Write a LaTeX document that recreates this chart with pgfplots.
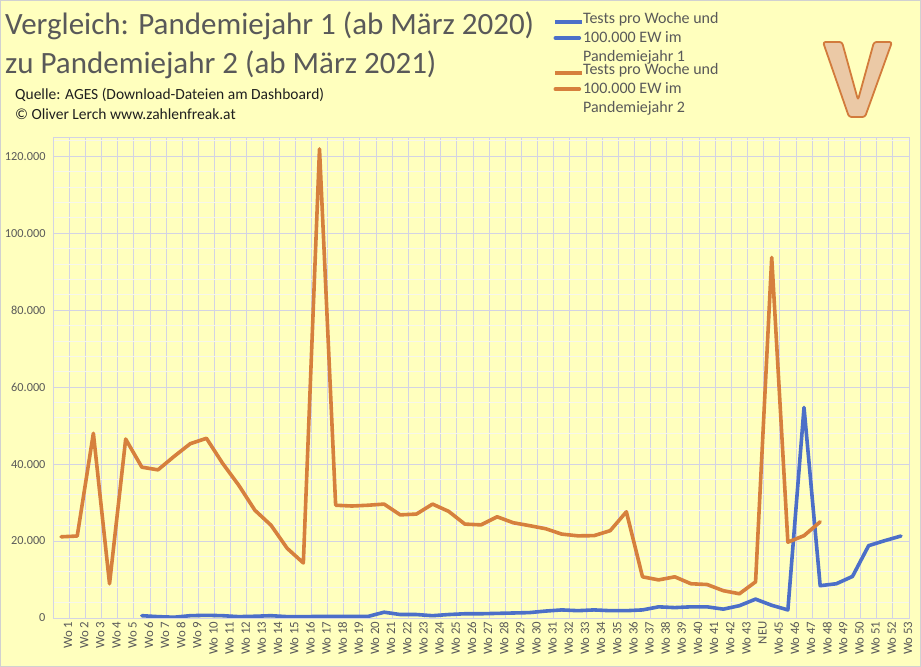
\documentclass[border=0pt]{standalone}
\usepackage{pgfplots}
\pgfplotsset{compat=1.18}
\usepackage{pgfplotstable}
\usepackage{fontspec}
\setmainfont{Carlito}
\definecolor{bg}{HTML}{FFFFBE}
\definecolor{gridmaj}{HTML}{D3D3E4}
\definecolor{gridmin}{HTML}{F6F6EC}
\definecolor{txtgray}{HTML}{595959}
\definecolor{blueline}{HTML}{4C6FC8}
\definecolor{orangeline}{HTML}{D6803D}
\definecolor{logofill}{HTML}{EBC9A6}
\definecolor{logoedge}{HTML}{D27B3C}

\pgfplotstableread{
x y
6 600
7 350
8 200
9 600
10 700
11 600
12 350
13 450
14 600
15 350
16 350
17 400
18 400
19 400
20 400
21 1500
22 900
23 900
24 600
25 900
26 1100
27 1100
28 1200
29 1300
30 1400
31 1800
32 2100
33 1900
34 2100
35 1900
36 1900
37 2100
38 2900
39 2700
40 2900
41 2900
42 2300
43 3200
44 4900
45 3300
46 2100
47 54700
48 8400
49 8900
50 10800
51 18800
52 20100
53 21300
}\jahreins

\pgfplotstableread{
x y
1 21100
2 21300
3 48000
4 8900
5 46500
6 39200
7 38500
8 42000
9 45300
10 46700
11 40200
12 34500
13 28000
14 24100
15 18100
16 14300
17 121900
18 29300
19 29100
20 29300
21 29600
22 26800
23 27000
24 29600
25 27700
26 24400
27 24200
28 26300
29 24750
30 24000
31 23200
32 21800
33 21350
34 21400
35 22700
36 27600
37 10700
38 9900
39 10700
40 8900
41 8700
42 7100
43 6300
44 9400
45 93700
46 19700
47 21400
48 25000
}\jahrzwei

\begin{document}
\begin{tikzpicture}[x=1bp,y=1bp]
\path[use as bounding box] (0,0) rectangle (921,667);
\fill[bg] (0,0) rectangle (921,667);
\draw[black!18, line width=1bp] (0.5,0.5) rectangle (920.5,666.5);

\node[anchor=base west, inner sep=0, text=txtgray, font=\fontsize{31bp}{36bp}\selectfont] at (5,632) {Vergleich: Pandemiejahr 1 (ab März 2020)};
\node[anchor=base west, inner sep=0, text=txtgray, font=\fontsize{31bp}{36bp}\selectfont] at (5,593) {zu Pandemiejahr 2 (ab März 2021)};
\node[anchor=base west, inner sep=0, text=black!88, font=\fontsize{15.5bp}{18bp}\selectfont] at (15,567) {Quelle: AGES (Download-Dateien am Dashboard)};
\node[anchor=base west, inner sep=0, text=black!88, font=\fontsize{15.5bp}{18bp}\selectfont] at (15,547) {© Oliver Lerch www.zahlenfreak.at};

\draw[logoedge, fill=logofill, line width=1.8bp, line join=round, rounded corners=2.5bp]
  (823,625) -- (842,625) -- (858,567) -- (874,625) -- (892,625) -- (865,550) -- (849,550) -- cycle;

\begin{axis}[
  at={(53bp,49bp)}, anchor=south west,
  scale only axis, width=856bp, height=481bp,
  xmin=0.5, xmax=53.5, ymin=0, ymax=125000,
  axis line style={gridmaj, line width=0.8bp},
  xtick={1,...,53},
  xticklabels={Wo 1,Wo 2,Wo 3,Wo 4,Wo 5,Wo 6,Wo 7,Wo 8,Wo 9,Wo 10,Wo 11,Wo 12,Wo 13,Wo 14,Wo 15,Wo 16,Wo 17,Wo 18,Wo 19,Wo 20,Wo 21,Wo 22,Wo 23,Wo 24,Wo 25,Wo 26,Wo 27,Wo 28,Wo 29,Wo 30,Wo 31,Wo 32,Wo 33,Wo 34,Wo 35,Wo 36,Wo 37,Wo 38,Wo 39,Wo 40,Wo 41,Wo 42,Wo 43,NEU,Wo 45,Wo 46,Wo 47,Wo 48,Wo 49,Wo 50,Wo 51,Wo 52,Wo 53},
  minor xtick={1.5,2.5,...,52.5},
  ytick={0,20000,...,120000},
  minor ytick={4000,8000,...,124000},
  major tick length=0pt, minor tick length=0pt,
  xmajorgrids=false, xminorgrids=true,
  ymajorgrids=true, yminorgrids=true,
  minor x grid style={gridmaj, line width=0.8bp},
  major y grid style={gridmaj, line width=0.8bp},
  minor y grid style={gridmin, line width=0.8bp},
  scaled y ticks=false,
  /pgf/number format/fixed,
  /pgf/number format/precision=0,
  /pgf/number format/1000 sep={.},
  /pgf/number format/assume math mode=true,
  yticklabel style={font=\fontsize{12.3bp}{12bp}\selectfont, text=txtgray, xshift=-4bp},
  xticklabel style={font=\fontsize{12.8bp}{12bp}\selectfont, text=txtgray, rotate=90, anchor=east, yshift=-7bp},
  legend style={at={(axis description cs:0.581,1.267)}, anchor=north west, draw=none, fill=none,
    font=\fontsize{16bp}{19bp}\selectfont, text=txtgray,
    cells={anchor=west, align=left}, row sep=-3.5bp},
  legend image code/.code={\path (0bp,0bp) -- (24bp,0bp); \draw[#1, overlay, line cap=butt] (0bp,16bp) -- (27bp,16bp);},
]
\addplot[blueline, line width=3.6bp, no marks, line join=round, line cap=round] table[x=x,y=y] {\jahreins};
\addlegendentry{Tests pro Woche und\\100.000 EW im\\Pandemiejahr 1}
\addplot[orangeline, line width=3.6bp, no marks, line join=round, line cap=round] table[x=x,y=y] {\jahrzwei};
\addlegendentry{Tests pro Woche und\\100.000 EW im\\Pandemiejahr 2}
\end{axis}
\end{tikzpicture}
\end{document}
